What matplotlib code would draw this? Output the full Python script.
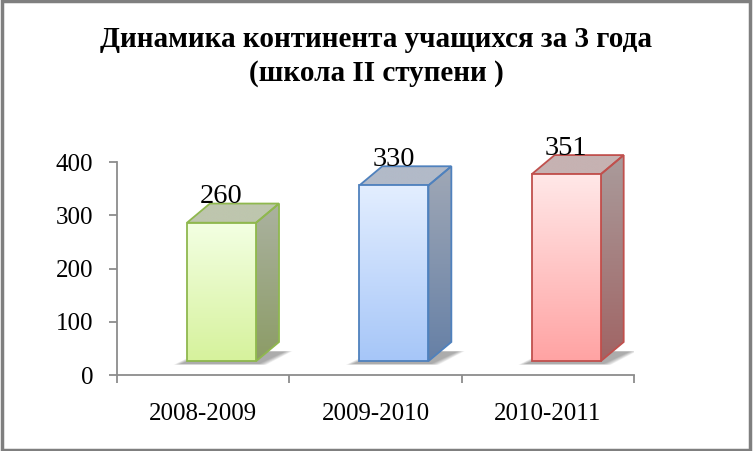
import numpy as np
import matplotlib.pyplot as plt
from matplotlib.patches import Polygon, Rectangle
from matplotlib.colors import LinearSegmentedColormap

years = ['2008-2009', '2009-2010', '2010-2011']
students = [260, 330, 351]

front_top = ['#f3ffe3', '#e3eeff', '#ffe8e8']
front_bottom = ['#d6f29c', '#a6c6f8', '#ffa3a3']
side_top = ['#abb2a0', '#a0a8b6', '#aa9c9c']
side_bottom = ['#8c9c66', '#6680a6', '#a06464']
top_face = ['#bec6ae', '#b2bac8', '#c6b2b2']
edges = ['#8fb84e', '#4f81bd', '#c0504d']

plt.rcParams['font.family'] = ['Liberation Serif', 'DejaVu Serif']

fig = plt.figure(figsize=(7.53, 4.51), dpi=100)
ax = fig.add_axes([0.1554, 0.1685, 0.6866, 0.5195])


def grad_poly(verts, c_top, c_bot, edge, z):
    poly = Polygon(verts, closed=True, facecolor='none', edgecolor=edge,
                   lw=1.3, zorder=z + 0.1, joinstyle='miter')
    ax.add_patch(poly)
    xs = [v[0] for v in verts]
    ys = [v[1] for v in verts]
    cmap = LinearSegmentedColormap.from_list('g', [c_bot, c_top])
    grad = np.linspace(0, 1, 256).reshape(-1, 1)
    im = ax.imshow(grad, cmap=cmap, extent=[min(xs), max(xs), min(ys), max(ys)],
                   origin='lower', aspect='auto', zorder=z, interpolation='bilinear')
    im.set_clip_path(poly)


# 3d look: floor offset, depth offsets
base = 26
dx, dy = 0.133, 36
left_off, right_off = -0.094, 0.307

for i, v in enumerate(students):
    x0, x1 = i + left_off, i + right_off
    top = base + v
    # soft shadow on the floor
    for k in range(8):
        g = 0.006 * (8 - k)
        shadow = [(x0 - g - 0.03, base - 5 - g * 40), (x1 + g + 0.01, base - 5 - g * 40),
                  (x1 + dx + g + 0.03, base + 18 + g * 20), (x0 + dx - g, base + 18 + g * 20)]
        ax.add_patch(Polygon(shadow, closed=True, facecolor='#303030', edgecolor='none',
                             alpha=0.06, zorder=1))
    # side face
    grad_poly([(x1, base), (x1 + dx, base + dy), (x1 + dx, top + dy), (x1, top)],
              side_top[i], side_bottom[i], edges[i], 2)
    # top face
    grad_poly([(x0, top), (x1, top), (x1 + dx, top + dy), (x0 + dx, top + dy)],
              top_face[i], top_face[i], edges[i], 2)
    # front face
    grad_poly([(x0, base), (x1, base), (x1, top), (x0, top)],
              front_top[i], front_bottom[i], edges[i], 3)
    ax.annotate(str(v), ((x0 + x1) / 2, top + dy), xytext=(0, 5), textcoords='offset points',
                ha='center', va='center', fontsize=20.5, zorder=5)

ax.set_xlim(-0.5, 2.5)
ax.set_ylim(0, 440)

for s in ['top', 'right']:
    ax.spines[s].set_visible(False)
for s in ['left', 'bottom']:
    ax.spines[s].set_color('#8c8c8c')
    ax.spines[s].set_linewidth(1.3)
ax.spines['left'].set_bounds(0, 400)

ax.set_yticks([0, 100, 200, 300, 400])
ax.set_xticks(range(len(years)))
ax.set_xticklabels(years)
ax.set_xticks([-0.5, 0.5, 1.5, 2.5], minor=True)
ax.tick_params(axis='x', which='major', length=0, pad=20, labelsize=18)
ax.tick_params(axis='x', which='minor', length=6, width=1.3, color='#8c8c8c')
ax.tick_params(axis='y', length=6, width=1.3, color='#8c8c8c', pad=11, labelsize=18)

fig.text(0.5, 0.912, 'Динамика континента учащихся за 3 года', ha='center', va='center',
         fontsize=21, fontweight='bold')
fig.text(0.5, 0.838, '(школа II ступени )', ha='center', va='center',
         fontsize=21, fontweight='bold')

fig.patches.append(Rectangle((0.002, 0.003), 0.994, 0.994, transform=fig.transFigure,
                             fill=False, edgecolor='#7f7f7f', lw=2.5))

fig.savefig('out.png', dpi=100)
